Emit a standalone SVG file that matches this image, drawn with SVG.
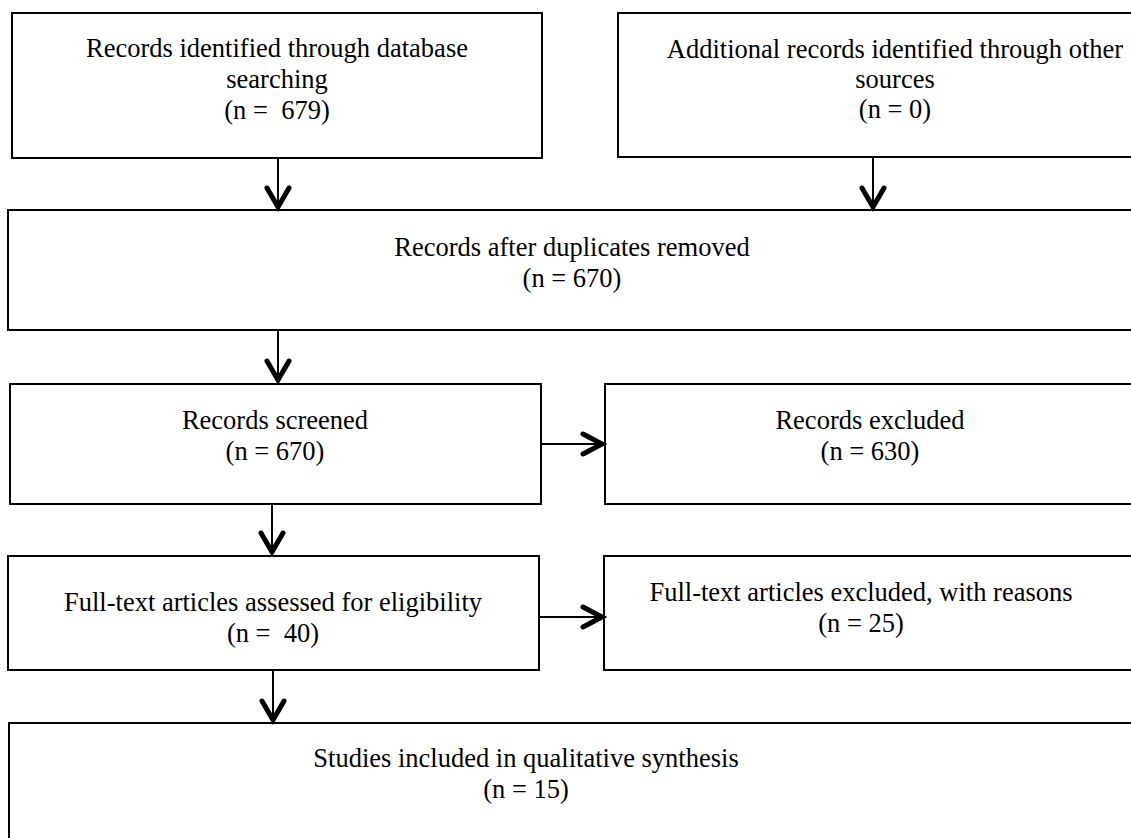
<svg xmlns="http://www.w3.org/2000/svg" width="1131" height="838" viewBox="0 0 1131 838">
<style>
.box{fill:#fff;stroke:#000;stroke-width:2}
.t{font-family:"Liberation Serif","Times New Roman",serif;font-size:26.5px;fill:#000;text-anchor:middle;white-space:pre}
.ln{stroke:#000;stroke-width:2;fill:none}
.hd{stroke:#000;stroke-width:5;fill:none;stroke-linecap:round;stroke-linejoin:miter}
</style>
<rect width="1131" height="838" fill="#fff"/>
<g id="n1"><rect class="box" x="12" y="13" width="530" height="145"/>
<text class="t" x="277" y="57">Records identified through database</text>
<text class="t" x="277" y="88">searching</text>
<text class="t" x="277" y="119" xml:space="preserve">(n =  679)</text></g>
<g id="n2"><rect class="box" x="618" y="13" width="560" height="144"/>
<text class="t" x="895" y="58">Additional records identified through other</text>
<text class="t" x="895" y="88">sources</text>
<text class="t" x="895" y="118">(n = 0)</text></g>
<g id="n3"><rect class="box" x="8" y="210" width="1140" height="120"/>
<text class="t" x="572" y="256">Records after duplicates removed</text>
<text class="t" x="572" y="287">(n = 670)</text></g>
<g id="n4"><rect class="box" x="10" y="384" width="531" height="120"/>
<text class="t" x="275" y="429">Records screened</text>
<text class="t" x="275" y="460">(n = 670)</text></g>
<g id="n5"><rect class="box" x="605" y="384" width="540" height="120"/>
<text class="t" x="870" y="429">Records excluded</text>
<text class="t" x="870" y="460">(n = 630)</text></g>
<g id="n6"><rect class="box" x="8" y="556" width="531" height="114"/>
<text class="t" x="273" y="611">Full-text articles assessed for eligibility</text>
<text class="t" x="273" y="642" xml:space="preserve">(n =  40)</text></g>
<g id="n7"><rect class="box" x="604" y="556" width="540" height="114"/>
<text class="t" x="861" y="601">Full-text articles excluded, with reasons</text>
<text class="t" x="861" y="632">(n = 25)</text></g>
<g id="n8"><rect class="box" x="9" y="723" width="1140" height="130"/>
<text class="t" x="526" y="767">Studies included in qualitative synthesis</text>
<text class="t" x="526" y="798">(n = 15)</text></g>
<g id="connectors">
<path class="ln" d="M278 158V206"/><path class="hd" d="M267 188L278 207L289 188"/>
<path class="ln" d="M873 157V206"/><path class="hd" d="M862 188L873 207L884 188"/>
<path class="ln" d="M278 330V379"/><path class="hd" d="M267 361L278 380L289 361"/>
<path class="ln" d="M541 444H600"/><path class="hd" d="M583 434L602 444L583 454"/>
<path class="ln" d="M272 504V551"/><path class="hd" d="M261 533L272 552L283 533"/>
<path class="ln" d="M539 617H600"/><path class="hd" d="M583 607L602 617L583 627"/>
<path class="ln" d="M273 670V719"/><path class="hd" d="M262 701L273 720L284 701"/>
</g>
</svg>
